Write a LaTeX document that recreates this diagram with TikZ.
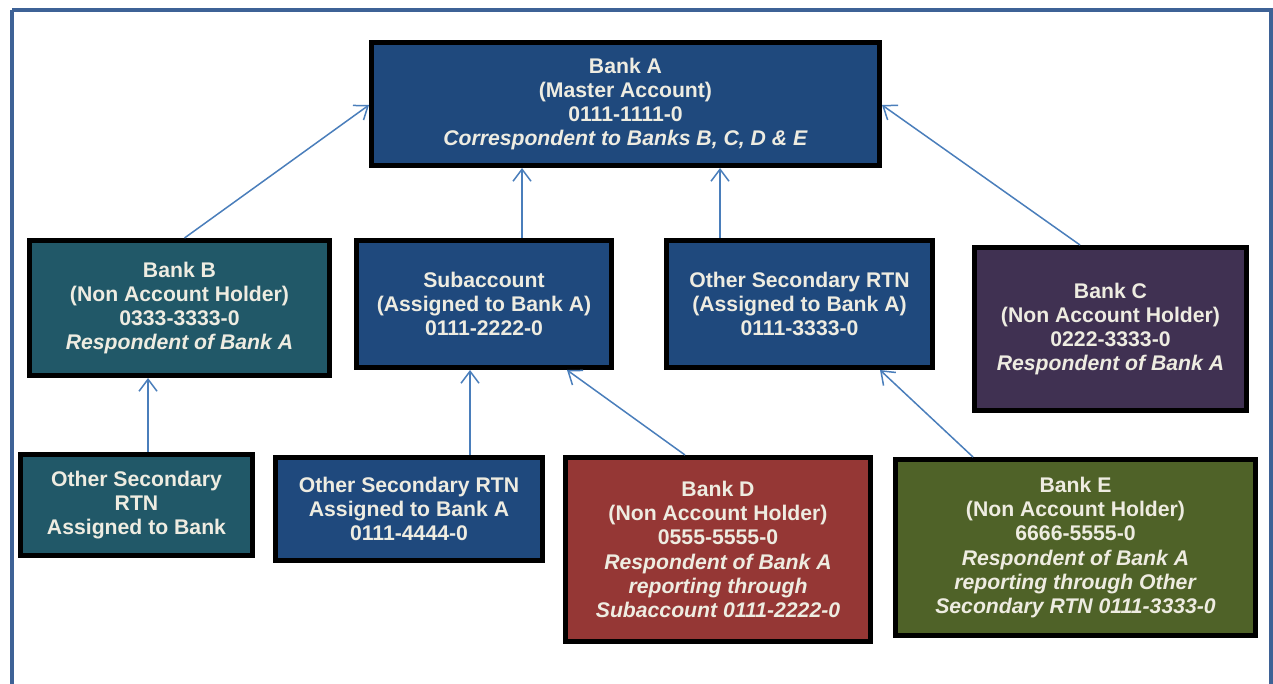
\documentclass[tikz,border=0pt]{standalone}
\usepackage{fontspec}
\setmainfont{Liberation Sans}
\usetikzlibrary{arrows.meta}
\definecolor{frameblue}{HTML}{3E6296}
\definecolor{linkblue}{HTML}{4A7EBB}
\definecolor{navy}{HTML}{1F497D}
\definecolor{teal}{HTML}{215868}
\definecolor{plum}{HTML}{403152}
\definecolor{brick}{HTML}{953735}
\definecolor{olive}{HTML}{4F6228}
\definecolor{cream}{HTML}{EEECE1}
\begin{document}
\begin{tikzpicture}[x=1pt,y=-1pt,
		bank/.style={draw=black,line width=5pt,text=cream,align=center,inner sep=2pt,
			font=\fontsize{21.2}{24.3}\selectfont\bfseries},
		>={Straight Barb[length=12pt,width=18pt]}]
		\useasboundingbox (0,0) rectangle (1273,684);
		\draw[frameblue,line width=4pt] (12,10) -- (1271,10) -- (1271,700);
		\draw[frameblue,line width=4pt] (12,10) -- (12,700);
		\node[bank,fill=navy,minimum width=508pt,minimum height=123pt] (A) at (625.5,104)
			{Bank A\\(Master Account)\\0111-1111-0\\\textit{Correspondent to Banks B, C, D \& E}};
		\node[bank,fill=teal,minimum width=300pt,minimum height=135pt] (B) at (179.5,308)
			{Bank B\\(Non Account Holder)\\0333-3333-0\\\textit{Respondent of Bank A}};
		\node[bank,fill=navy,minimum width=255pt,minimum height=127pt] (sub) at (484,304)
			{Subaccount\\(Assigned to Bank A)\\0111-2222-0};
		\node[bank,fill=navy,minimum width=266pt,minimum height=127pt] (osr3) at (799.5,304)
			{Other Secondary RTN\\(Assigned to Bank A)\\0111-3333-0};
		\node[bank,fill=plum,minimum width=272pt,minimum height=163pt] (C) at (1110.5,329)
			{Bank C\\(Non Account Holder)\\0222-3333-0\\\textit{Respondent of Bank A}};
		\node[bank,fill=teal,minimum width=232pt,minimum height=101pt] (osrB) at (136.5,505)
			{Other Secondary\\RTN\\Assigned to Bank};
		\node[bank,fill=navy,minimum width=267pt,minimum height=103pt] (osr4) at (409,509)
			{Other Secondary RTN\\Assigned to Bank A\\0111-4444-0};
		\node[bank,fill=brick,minimum width=305pt,minimum height=184pt] (D) at (718,549.5)
			{Bank D\\(Non Account Holder)\\0555-5555-0\\\textit{Respondent of Bank A}\\
			\textit{reporting through}\\\textit{Subaccount 0111-2222-0}};
		\node[bank,fill=olive,minimum width=360pt,minimum height=176pt] (E) at (1075.5,547.5)
			{Bank E\\(Non Account Holder)\\6666-5555-0\\\textit{Respondent of Bank A}\\
			\textit{reporting through Other}\\\textit{Secondary RTN 0111-3333-0}};
		\draw[linkblue,line width=1.5pt,->] (B.north) ++(5,0) coordinate (b1) -- (A.west |- 0,105);
		\draw[linkblue,line width=1.5pt,->] (sub.north -| 522,0) -- (A.south -| 522,0);
		\draw[linkblue,line width=1.5pt,->] (osr3.north -| 720,0) -- (A.south -| 720,0);
		\draw[linkblue,line width=1.5pt,->] (C.north -| 1080,0) -- (A.east |- 0,105);
		\draw[linkblue,line width=1.5pt,->] (osrB.north -| 148,0) -- (B.south -| 148,0);
		\draw[linkblue,line width=1.5pt,->] (osr4.north -| 470,0) -- (sub.south -| 470,0);
		\draw[linkblue,line width=1.5pt,->] (D.north -| 685,0) -- (sub.south -| 567,0);
		\draw[linkblue,line width=1.5pt,->] (E.north -| 973,0) -- (osr3.south -| 880,0);
	\end{tikzpicture}
\end{document}
